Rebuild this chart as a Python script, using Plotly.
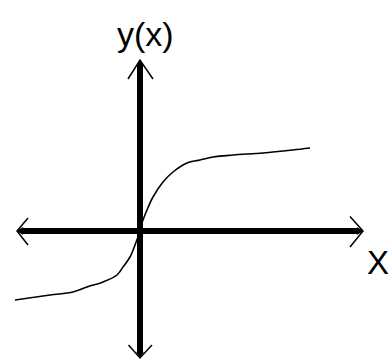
import plotly.graph_objects as go

# Curve data (arbitrary units)
x_vals = [-12.5, -9.0, -6.7, -5.3, -3.7, -2.3, -1.7, -1.0, -0.5, 0.0, 0.2, 0.7,
          1.3, 2.3, 3.3, 4.7, 6.0, 7.3, 9.3, 12.3, 15.3, 17.0]
y_vals = [-6.9, -6.4, -6.1, -5.6, -5.1, -4.4, -3.6, -2.6, -1.4, 0.0, 0.8, 2.1,
          3.4, 4.9, 5.9, 6.8, 7.1, 7.4, 7.6, 7.8, 8.1, 8.3]

y_label = "y(x)"
x_label = "X"

# axis extents
x_left, x_right = -12.3, 22.3
y_top, y_bottom = 17.1, -12.7

fig = go.Figure()
fig.add_trace(go.Scatter(x=x_vals, y=y_vals, mode="lines",
                         line=dict(color="black", width=1.6, shape="spline"),
                         hoverinfo="skip", showlegend=False))

shapes = []
ax_line = dict(color="black", width=6)
shapes.append(dict(type="line", x0=x_left + 0.5, x1=x_right - 0.5, y0=0, y1=0,
                   line=ax_line, layer="above"))
shapes.append(dict(type="line", x0=0, x1=0, y0=y_bottom + 0.5, y1=y_top - 0.5,
                   line=ax_line, layer="above"))
# tapered tips
tip = dict(type="path", fillcolor="black", line=dict(color="black", width=1), layer="above")
shapes.append(dict(tip, path=f"M {x_right-0.6},0.32 L {x_right},0 L {x_right-0.6},-0.32 Z"))
shapes.append(dict(tip, path=f"M {x_left+0.6},0.32 L {x_left},0 L {x_left+0.6},-0.32 Z"))
shapes.append(dict(tip, path=f"M -0.32,{y_top-0.6} L 0,{y_top} L 0.32,{y_top-0.6} Z"))
shapes.append(dict(tip, path=f"M -0.32,{y_bottom+0.6} L 0,{y_bottom} L 0.32,{y_bottom+0.6} Z"))
# open chevrons
chev = dict(type="path", line=dict(color="black", width=1.5), layer="above")
shapes.append(dict(chev, path=f"M {x_right-1.3},1.45 L {x_right},0 L {x_right-1.3},-1.6"))
shapes.append(dict(chev, path=f"M {x_left+1.1},1.3 L {x_left},0 L {x_left+1.1},-1.4"))
shapes.append(dict(chev, path=f"M -1.2,{y_top-1.9} L 0,{y_top} L 1.3,{y_top-1.9}"))
shapes.append(dict(chev, path=f"M -1.15,{y_bottom+1.3} L 0,{y_bottom} L 1.2,{y_bottom+1.3}"))

fig.update_layout(
    width=390, height=360,
    margin=dict(l=0, r=0, t=0, b=0),
    paper_bgcolor="white", plot_bgcolor="white",
    xaxis=dict(range=[-14.0, 25.0], visible=False, fixedrange=True),
    yaxis=dict(range=[-12.9, 23.1], visible=False, fixedrange=True),
    shapes=shapes,
    annotations=[
        dict(x=0.5, y=19.7, xref="x", yref="y", text=y_label, showarrow=False,
             font=dict(family="Liberation Sans, Arial", size=34, color="black")),
        dict(x=23.75, y=-3.1, xref="x", yref="y", text=x_label, showarrow=False,
             xanchor="center",
             font=dict(family="Liberation Sans, Arial", size=33, color="black")),
    ],
)

fig.write_html(
    "out.html",
    config={"displayModeBar": False},
    post_script="document.body.style.margin='0';document.body.style.overflow='hidden';",
)
